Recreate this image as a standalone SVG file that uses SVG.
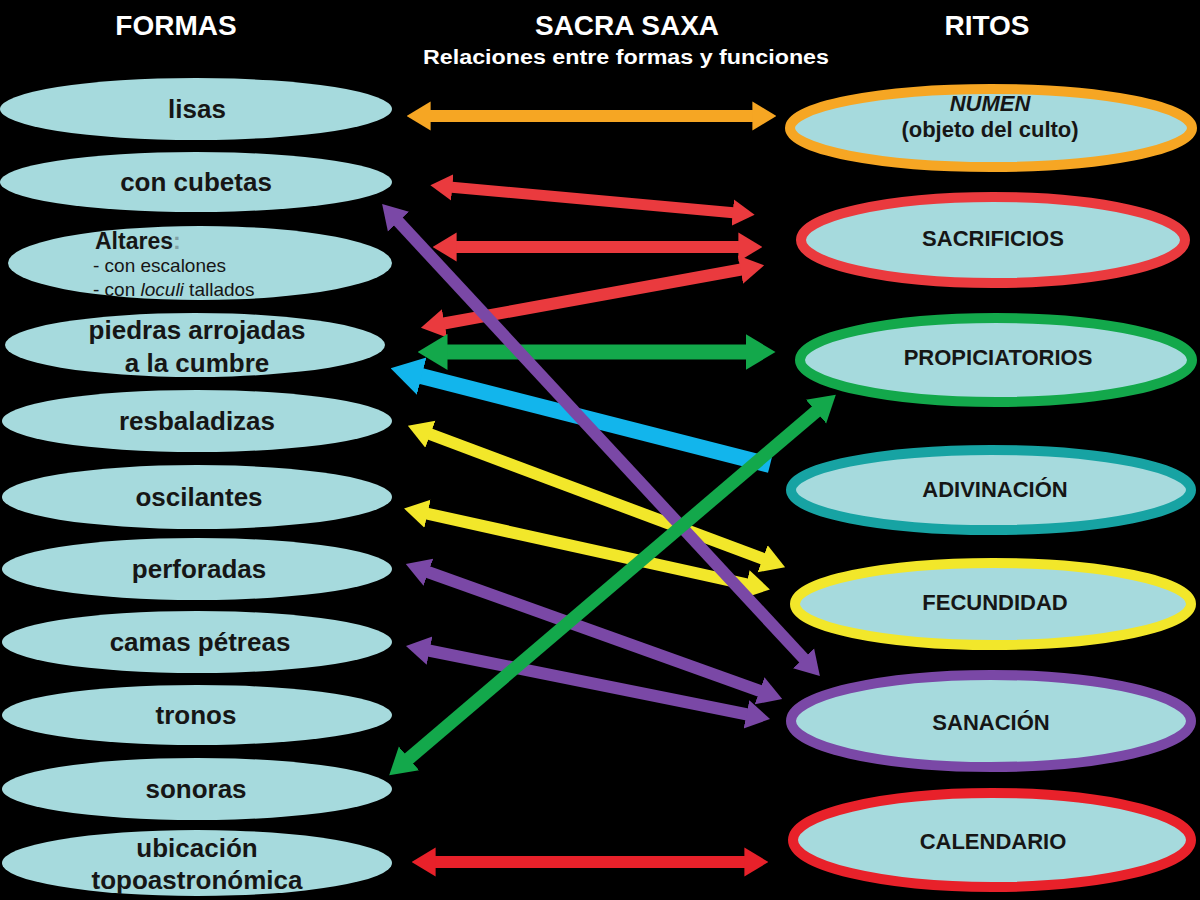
<svg xmlns="http://www.w3.org/2000/svg" width="1200" height="900" viewBox="0 0 1200 900">
<style>
.bg{fill:#000}
.lf{fill:#a6dadd}
.rt{fill:#a6dadd;stroke-width:10}
.hd{font-family:"Liberation Sans",Arial,sans-serif;font-weight:bold;fill:#fff;text-anchor:middle}
.t{font-family:"Liberation Sans",Arial,sans-serif;font-weight:bold;fill:#161616;text-anchor:middle;font-size:26px}
.r{font-family:"Liberation Sans",Arial,sans-serif;font-weight:bold;fill:#161616;text-anchor:middle;font-size:22px}
.s{font-family:"Liberation Sans",Arial,sans-serif;fill:#161616;font-size:19px}
.a{fill:none;stroke-linecap:butt}
</style>
<defs>
<marker id="mo" viewBox="-0.3 -1.3 2 2.6" markerWidth="2" markerHeight="2.6" refX="0" refY="0" orient="auto-start-reverse" markerUnits="strokeWidth"><path d="M-0.3,-1.2 L1.7,0 L-0.3,1.2 z" fill="#f6a623"/></marker>
<marker id="mr" viewBox="-0.3 -1.3 2 2.6" markerWidth="2" markerHeight="2.6" refX="0" refY="0" orient="auto-start-reverse" markerUnits="strokeWidth"><path d="M-0.3,-1.2 L1.7,0 L-0.3,1.2 z" fill="#ea3a3e"/></marker>
<marker id="mr2" viewBox="-0.3 -1.3 2 2.6" markerWidth="2" markerHeight="2.6" refX="0" refY="0" orient="auto-start-reverse" markerUnits="strokeWidth"><path d="M-0.3,-1.2 L1.7,0 L-0.3,1.2 z" fill="#e8212a"/></marker>
<marker id="mg" viewBox="-0.3 -1.3 2 2.6" markerWidth="2" markerHeight="2.6" refX="0" refY="0" orient="auto-start-reverse" markerUnits="strokeWidth"><path d="M-0.3,-1.2 L1.7,0 L-0.3,1.2 z" fill="#13a84b"/></marker>
<marker id="mp" viewBox="-0.3 -1.3 2 2.6" markerWidth="2" markerHeight="2.6" refX="0" refY="0" orient="auto-start-reverse" markerUnits="strokeWidth"><path d="M-0.3,-1.2 L1.7,0 L-0.3,1.2 z" fill="#7a48a6"/></marker>
<marker id="mb" viewBox="-0.3 -1.3 2 2.6" markerWidth="2" markerHeight="2.6" refX="0" refY="0" orient="auto-start-reverse" markerUnits="strokeWidth"><path d="M-0.3,-1.2 L1.7,0 L-0.3,1.2 z" fill="#12b5ec"/></marker>
<marker id="my" viewBox="-0.3 -1.3 2 2.6" markerWidth="2" markerHeight="2.6" refX="0" refY="0" orient="auto-start-reverse" markerUnits="strokeWidth"><path d="M-0.3,-1.2 L1.7,0 L-0.3,1.2 z" fill="#f2e72a"/></marker>
</defs>
<rect class="bg" x="0" y="0" width="1200" height="900"/>

<g id="titles">
<text class="hd" x="176" y="35" font-size="28">FORMAS</text>
<text class="hd" x="627" y="35" font-size="28">SACRA SAXA</text>
<text class="hd" x="987" y="35" font-size="28">RITOS</text>
<text class="hd" x="626" y="64" font-size="20" textLength="406" lengthAdjust="spacingAndGlyphs">Relaciones entre formas y funciones</text>
</g>

<g id="f-lisas"><ellipse class="lf" cx="196" cy="109" rx="196" ry="31"/><text class="t" x="197" y="118">lisas</text></g>
<g id="f-cubetas"><ellipse class="lf" cx="196" cy="182" rx="196" ry="30"/><text class="t" x="196" y="191">con cubetas</text></g>
<g id="f-altares"><ellipse class="lf" cx="200" cy="263" rx="192" ry="37"/>
<text class="s" x="95" y="249" style="font-size:23px;font-weight:bold">Altares<tspan fill="#7f9fa3">:</tspan></text>
<text class="s" x="93" y="272">- con escalones</text>
<text class="s" x="93" y="296">- con <tspan font-style="italic">loculi</tspan> tallados</text></g>
<g id="f-piedras"><ellipse class="lf" cx="195" cy="345" rx="190" ry="32"/><text class="t" x="197" y="339">piedras arrojadas</text><text class="t" x="197" y="372">a la cumbre</text></g>
<g id="f-resbaladizas"><ellipse class="lf" cx="197" cy="421" rx="195" ry="31"/><text class="t" x="197" y="430">resbaladizas</text></g>
<g id="f-oscilantes"><ellipse class="lf" cx="197" cy="497" rx="195" ry="32"/><text class="t" x="199" y="506">oscilantes</text></g>
<g id="f-perforadas"><ellipse class="lf" cx="197" cy="569" rx="195" ry="31"/><text class="t" x="199" y="578">perforadas</text></g>
<g id="f-camas"><ellipse class="lf" cx="197" cy="642" rx="195" ry="31"/><text class="t" x="200" y="651">camas pétreas</text></g>
<g id="f-tronos"><ellipse class="lf" cx="197" cy="715" rx="195" ry="30"/><text class="t" x="196" y="724">tronos</text></g>
<g id="f-sonoras"><ellipse class="lf" cx="197" cy="789" rx="195" ry="31"/><text class="t" x="196" y="798">sonoras</text></g>
<g id="f-ubicacion"><ellipse class="lf" cx="197" cy="863" rx="195" ry="33"/><text class="t" x="197" y="857">ubicación</text><text class="t" x="197" y="889">topoastronómica</text></g>

<g id="r-numen"><ellipse class="rt" cx="991" cy="128" rx="201" ry="39" stroke="#f6a623"/><text class="r" x="990" y="111" font-style="italic">NUMEN</text><text class="r" x="990" y="137">(objeto del culto)</text></g>
<g id="r-sacrificios"><ellipse class="rt" cx="993" cy="240" rx="192" ry="43" stroke="#ea3a3e"/><text class="r" x="993" y="246">SACRIFICIOS</text></g>
<g id="r-propiciatorios"><ellipse class="rt" cx="996" cy="360" rx="196" ry="42" stroke="#13a84b"/><text class="r" x="998" y="365">PROPICIATORIOS</text></g>
<g id="r-adivinacion"><ellipse class="rt" cx="991" cy="490" rx="200" ry="40" stroke="#17a3a3"/><text class="r" x="995" y="497">ADIVINACIÓN</text></g>
<g id="r-fecundidad"><ellipse class="rt" cx="993" cy="604" rx="198" ry="41" stroke="#f2e72a"/><text class="r" x="995" y="610">FECUNDIDAD</text></g>
<g id="r-sanacion"><ellipse class="rt" cx="991" cy="721" rx="200" ry="46" stroke="#7a48a6"/><text class="r" x="991" y="730">SANACIÓN</text></g>
<g id="r-calendario"><ellipse class="rt" cx="992" cy="840" rx="199" ry="47" stroke="#e8212a"/><text class="r" x="993" y="849">CALENDARIO</text></g>

<g id="connectors">
<line class="a" x1="427" y1="116" x2="756" y2="116" stroke="#f6a623" stroke-width="12" marker-start="url(#mo)" marker-end="url(#mo)"/>
<line class="a" x1="449" y1="187" x2="736" y2="213" stroke="#ea3a3e" stroke-width="11" marker-start="url(#mr)" marker-end="url(#mr)"/>
<line class="a" x1="453" y1="247" x2="742" y2="247" stroke="#ea3a3e" stroke-width="12" marker-start="url(#mr)" marker-end="url(#mr)"/>
<line class="a" x1="441" y1="324" x2="744" y2="269" stroke="#ea3a3e" stroke-width="12" marker-start="url(#mr)" marker-end="url(#mr)"/>
<line class="a" x1="443" y1="352" x2="750" y2="352" stroke="#13a84b" stroke-width="15" marker-start="url(#mg)" marker-end="url(#mg)"/>
<line class="a" x1="432" y1="862" x2="748" y2="862" stroke="#e8212a" stroke-width="12" marker-start="url(#mr2)" marker-end="url(#mr2)"/>
<line class="a" x1="770" y1="465" x2="417" y2="375" stroke="#12b5ec" stroke-width="16" marker-end="url(#mb)"/>
<line class="a" x1="427" y1="433" x2="766" y2="560" stroke="#f2e72a" stroke-width="12" marker-start="url(#my)" marker-end="url(#my)"/>
<line class="a" x1="424" y1="513" x2="750" y2="585" stroke="#f2e72a" stroke-width="12" marker-start="url(#my)" marker-end="url(#my)"/>
<line class="a" x1="396" y1="219" x2="806" y2="661" stroke="#7a48a6" stroke-width="12" marker-start="url(#mp)" marker-end="url(#mp)"/>
<line class="a" x1="425" y1="571" x2="763" y2="692" stroke="#7a48a6" stroke-width="12" marker-start="url(#mp)" marker-end="url(#mp)"/>
<line class="a" x1="426" y1="650" x2="750" y2="715" stroke="#7a48a6" stroke-width="12" marker-start="url(#mp)" marker-end="url(#mp)"/>
<line class="a" x1="819" y1="409" x2="406" y2="761" stroke="#13a84b" stroke-width="13" marker-start="url(#mg)" marker-end="url(#mg)"/>
</g>
</svg>
